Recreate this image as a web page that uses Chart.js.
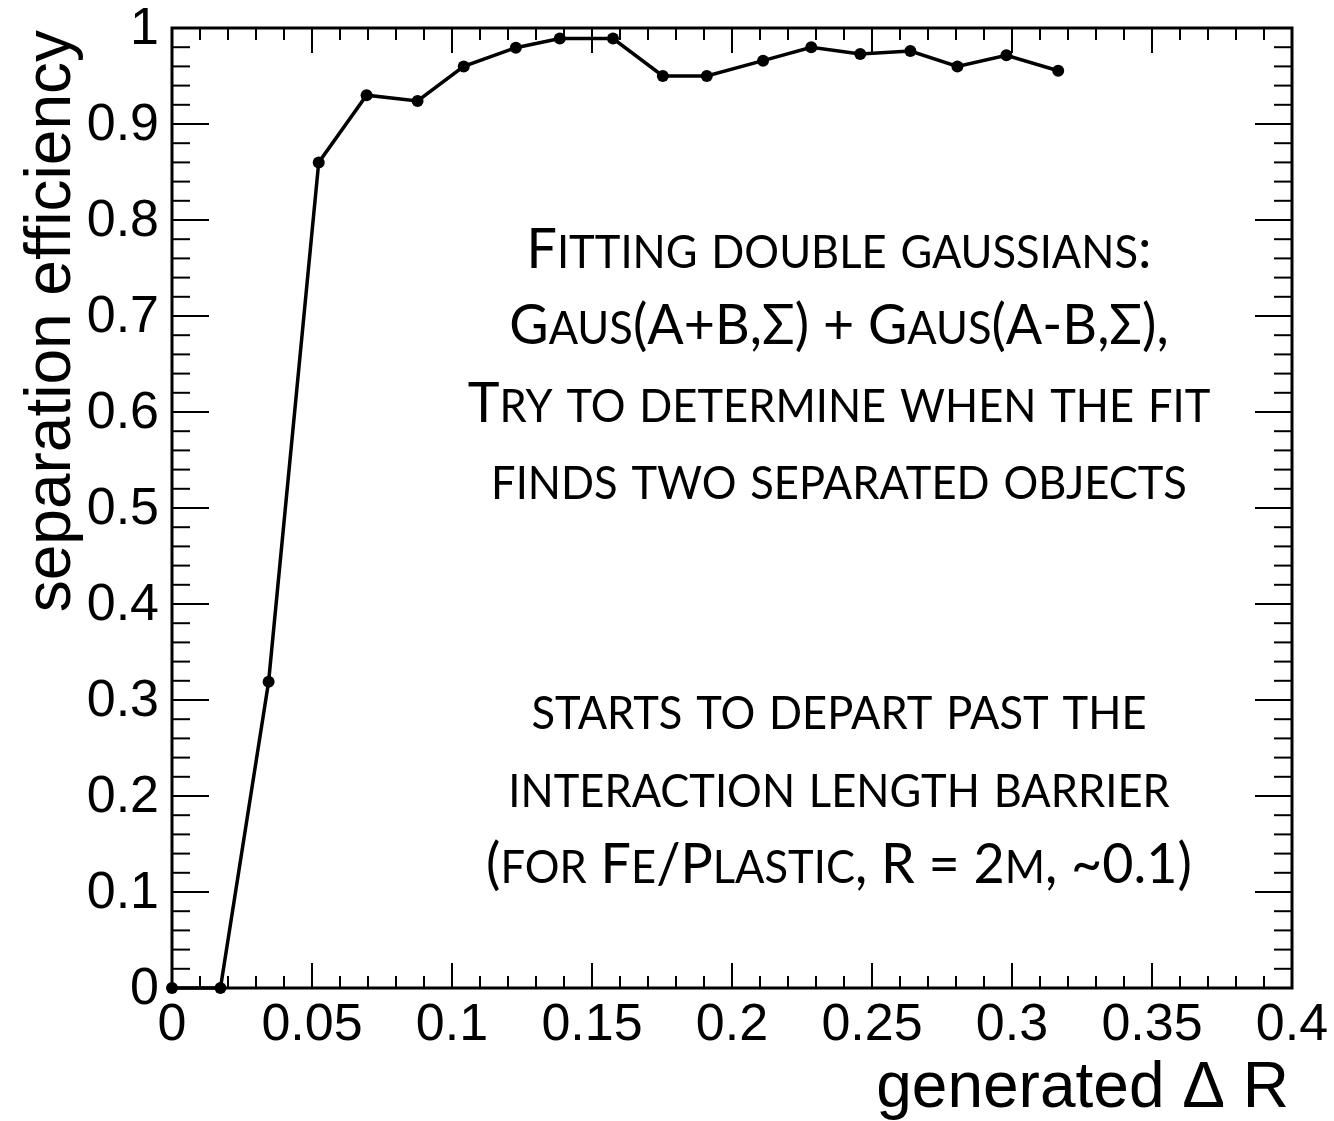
<!DOCTYPE html>
<html>
<head>
<meta charset="utf-8">
<script src="https://cdn.jsdelivr.net/npm/chart.js@4/dist/chart.umd.min.js"></script>
<style>
  html, body { margin: 0; padding: 0; background: #fff; }
  canvas { display: block; }
</style>
</head>
<body>
<canvas id="graphe" width="1334" height="1121"></canvas>
<script>
'use strict';

/* global Chart */

// generated Delta R
const deltaR = [0, 0.0173, 0.0345, 0.0524, 0.0695, 0.0877, 0.1042, 0.1228, 0.1385, 0.1575,
    0.1753, 0.191, 0.2111, 0.2283, 0.2458, 0.2637, 0.2805, 0.298, 0.3165];
// separation efficiency
const efficacite = [0, 0, 0.319, 0.86, 0.93, 0.924, 0.96, 0.9795, 0.989, 0.989,
    0.95, 0.95, 0.966, 0.98, 0.973, 0.976, 0.96, 0.9715, 0.9555];

const xTicks = ['0', '0.05', '0.1', '0.15', '0.2', '0.25', '0.3', '0.35', '0.4'];
const yTicks = ['0', '0.1', '0.2', '0.3', '0.4', '0.5', '0.6', '0.7', '0.8', '0.9', '1'];

const titreX = 'generated \u0394 R';
const titreY = 'separation efficiency';

const texteHaut = [
    'Fitting double gaussians:',
    'Gaus(A+B,\u03A3) + Gaus(A-B,\u03A3),',
    'Try to determine when the fit',
    'finds two separated objects'
];
const texteBas = [
    'starts to depart past the',
    'interaction length barrier',
    '(for Fe/Plastic, R = 2m, ~0.1)'
];

const POLICE_AXE = '"Liberation Sans", Arial, Helvetica, sans-serif';
const POLICE_TEXTE = 'Lato, "Open Sans", sans-serif';

// petites capitales dessinees a la main
function morceaux(txt) {
    let res = [];
    for (const c of txt) {
        const petit = c !== c.toUpperCase();
        const last = res[res.length - 1];
        if (last && last.petit === petit) last.s += c.toUpperCase();
        else res.push({ s: c.toUpperCase(), petit: petit });
    }
    return res;
}

function largeurSC(ctx, txt, grand, petit) {
    let w = 0;
    for (const m of morceaux(txt)) {
        ctx.font = (m.petit ? petit : grand) + 'px ' + POLICE_TEXTE;
        w += ctx.measureText(m.s).width;
    }
    return w;
}

function ecrireSC(ctx, txt, cx, base, grand, petit, fx) {
    const w = largeurSC(ctx, txt, grand, petit);
    ctx.save();
    ctx.translate(cx, base);
    ctx.scale(fx, 1);
    let x = -w / 2;
    ctx.textAlign = 'left';
    ctx.textBaseline = 'alphabetic';
    for (const m of morceaux(txt)) {
        ctx.font = (m.petit ? petit : grand) + 'px ' + POLICE_TEXTE;
        ctx.fillText(m.s, x, 0);
        x += ctx.measureText(m.s).width;
    }
    ctx.restore();
}

function trait(ctx, x1, y1, x2, y2) {
    ctx.beginPath();
    ctx.moveTo(x1, y1);
    ctx.lineTo(x2, y2);
    ctx.stroke();
}

const cadre = {
    id: 'cadre',
    beforeDatasetsDraw(chart) {
        const { ctx, chartArea: a, scales: { x, y } } = chart;
        ctx.save();
        ctx.strokeStyle = '#000';
        ctx.lineWidth = 2;
        // graduations x (haut et bas)
        for (let i = 0; i <= 40; i++) {
            const px = x.getPixelForValue(i * 0.01);
            const l = i % 5 === 0 ? 25 : 12;
            trait(ctx, px, a.bottom, px, a.bottom - l);
            trait(ctx, px, a.top, px, a.top + l);
        }
        // graduations y (gauche et droite)
        for (let i = 0; i <= 50; i++) {
            const py = y.getPixelForValue(i * 0.02);
            const l = i % 5 === 0 ? 37 : 18;
            trait(ctx, a.left, py, a.left + l, py);
            trait(ctx, a.right, py, a.right - l, py);
        }
        ctx.lineWidth = 3;
        ctx.strokeRect(a.left, a.top, a.right - a.left, a.bottom - a.top);
        ctx.restore();
    },
    afterDraw(chart) {
        const { ctx, chartArea: a, scales: { x, y } } = chart;
        ctx.save();
        ctx.fillStyle = '#000';
        ctx.font = '52px ' + POLICE_AXE;
        // labels x
        ctx.textAlign = 'center';
        ctx.textBaseline = 'top';
        xTicks.forEach(function (t) {
            ctx.fillText(t, x.getPixelForValue(parseFloat(t)), a.bottom + 12);
        });
        // labels y
        ctx.textAlign = 'right';
        ctx.textBaseline = 'middle';
        yTicks.forEach(function (t) {
            ctx.fillText(t, a.left - 13, y.getPixelForValue(parseFloat(t)) + 2);
        });
        // titres
        ctx.font = '64px ' + POLICE_AXE;
        ctx.textAlign = 'right';
        ctx.textBaseline = 'alphabetic';
        ctx.fillText(titreX, a.right - 3, 1107);
        ctx.save();
        ctx.translate(70, a.top + 2);
        ctx.rotate(-Math.PI / 2);
        ctx.fillText(titreY, 0, 0);
        ctx.restore();

        // texte en petites capitales
        const grand = 57, petit = 46;
        const fx = 625 / largeurSC(ctx, texteHaut[0], grand, petit);
        const cx = 839;
        const basesHaut = [268, 344, 422, 499];
        texteHaut.forEach(function (l, i) {
            ecrireSC(ctx, l, cx, basesHaut[i], grand, petit, fx);
        });
        const basesBas = [729, 807, 883];
        texteBas.forEach(function (l, i) {
            ecrireSC(ctx, l, cx, basesBas[i], grand, petit, fx);
        });
        ctx.restore();
    }
};

document.addEventListener('DOMContentLoaded', function () {
    const ctx = document.getElementById('graphe').getContext('2d');
    const points = deltaR.map(function (v, i) {
        return { x: v, y: efficacite[i] };
    });

    // eslint-disable-next-line no-unused-vars
    let diag = new Chart(ctx, {
        type: 'line',
        data: {
            datasets: [{
                label: 'efficacite',
                data: points,
                borderColor: '#000',
                borderWidth: 3.5,
                backgroundColor: '#000',
                pointRadius: 6,
                pointBackgroundColor: '#000',
                pointBorderWidth: 0,
                tension: 0,
                clip: false
            }]
        },
        options: {
            responsive: false,
            animation: false,
            events: [],
            layout: { padding: { left: 172, right: 42, top: 28, bottom: 133 } },
            plugins: { legend: { display: false }, tooltip: { enabled: false } },
            scales: {
                x: { type: 'linear', min: 0, max: 0.4, display: false },
                y: { type: 'linear', min: 0, max: 1, display: false }
            }
        },
        plugins: [cadre]
    });
});
</script>
</body>
</html>
